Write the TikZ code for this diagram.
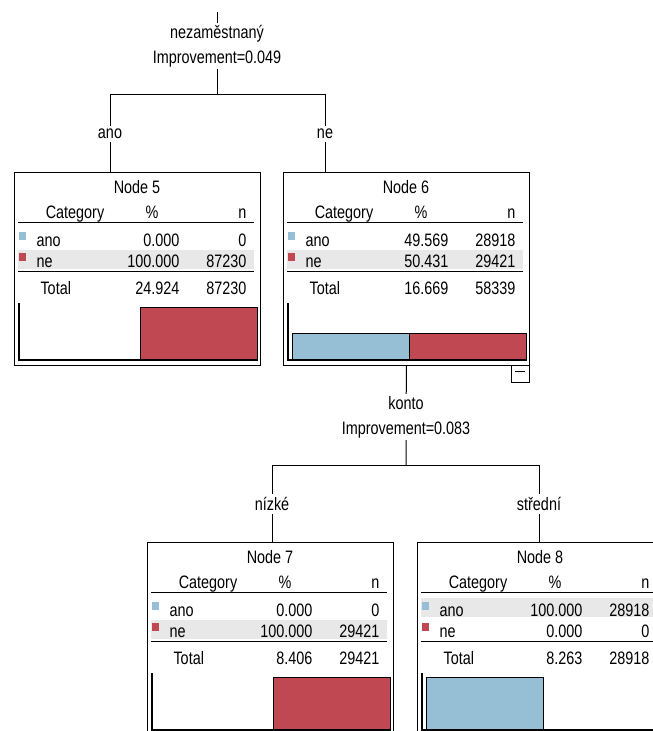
\documentclass[tikz,border=0pt]{standalone}
\usepackage{fontspec}
\setmainfont{Liberation Sans}[FakeStretch=0.8]
\usetikzlibrary{positioning}

\definecolor{anoblue}{RGB}{150,190,212}
\definecolor{nered}{RGB}{192,72,82}
\definecolor{rowgray}{RGB}{232,232,232}

\tikzset{
  treebox/.style={draw, line width=1pt, minimum width=246pt, minimum height=193pt, inner sep=0pt, anchor=north west},
  splitlabel/.style={align=center, inner sep=2pt, font=\fontsize{18}{25}\selectfont},
  branchlabel/.style={inner sep=3pt},
  edge/.style={line width=1pt},
  barbox/.style={draw=black, line width=0.8pt},
}

\begin{document}
\begin{tikzpicture}[x=1pt, y=-1pt, font=\fontsize{18}{21}\selectfont]
    \useasboundingbox (0,0) rectangle (653,731);
    \clip (0,0) rectangle (653,731);

    % Node boxes: name/left/top/number/ano %/ano n/ne %/ne n/total %/total n/highlighted row
    \foreach \nm/\bx/\by/\num/\ap/\an/\np/\nn/\tp/\tn/\hy in {
        n5/14/172/5/0.000/0/100.000/87230/24.924/87230/78,
        n6/283/172/6/49.569/28918/50.431/29421/16.669/58339/78,
        n7/147/542/7/0.000/0/100.000/29421/8.406/29421/78,
        n8/417/542/8/100.000/28918/0.000/0/8.263/28918/56}{
        \begin{scope}[shift={(\bx,\by)}]
            \fill[rowgray] (4,\hy) rectangle (240,\hy+19);
            \node[treebox] (\nm) at (0,0) {};
            \node[anchor=base] (\nm title) at (123,21) {Node \num};
            % Header
            \node[anchor=base] (\nm cat) at (61,46) {Category};
            \node[anchor=base] (\nm pct) at (138,46) {\%};
            \node[anchor=base east] (\nm cnt) at (236,46) {n};
            \draw (4,50) -- (240,50);
            % Rows
            \fill[anoblue] (5,60) rectangle (12,68);
            \node[anchor=base west] (\nm ano) at (19,74) {ano};
            \node[anchor=base east] (\nm anop) at (169,74) {\ap};
            \node[anchor=base east] (\nm anon) at (236,74) {\an};
            \fill[nered] (5,81) rectangle (12,89);
            \node[anchor=base west] (\nm ne) at (19,95) {ne};
            \node[anchor=base east] (\nm nep) at (169,95) {\np};
            \node[anchor=base east] (\nm nen) at (236,95) {\nn};
            \draw (4,99) -- (240,99);
            \node[anchor=base west] (\nm tot) at (23,122) {Total};
            \node[anchor=base east] (\nm totp) at (169,122) {\tp};
            \node[anchor=base east] (\nm totn) at (236,122) {\tn};
            % Bar chart
            \filldraw[barbox, fill=anoblue] (9,188) rectangle (126,{188-0.53*\ap});
            \filldraw[barbox, fill=nered] (126,188) rectangle (243,{188-0.53*\np});
            \draw[line width=1.2pt] (5,131) -- (5,188) -- (243,188);
        \end{scope}
    }

    % First split
    \coordinate (root) at (217,12);
    \node[splitlabel] (split1) at (217,46) {nezaměstnaný\\Improvement=0.049};
    \coordinate (j1) at (217,94);
    \node[branchlabel] (lab5) at (110,134) {ano};
    \node[branchlabel] (lab6) at (325,134) {ne};
    \draw[edge] (root) -- (split1) -- (j1);
    \draw[edge] (j1) -| (lab5);
    \draw[edge] (j1) -| (lab6);
    \draw[edge] (lab5) -- (lab5 |- n5.north);
    \draw[edge] (lab6) -- (lab6 |- n6.north);

    % Collapse marker
    \node[draw, line width=0.8pt, minimum width=18pt, minimum height=17pt, inner sep=0pt] (n6toggle) at (520,373.5) {};
    \draw[line width=1pt] ([xshift=4pt, yshift=2pt]n6toggle.west) -- ([xshift=-4pt, yshift=2pt]n6toggle.east);

    % Second split
    \node[splitlabel] (split2) at (406,417) {konto\\Improvement=0.083};
    \coordinate (j2) at (406,465);
    \node[branchlabel] (lab7) at (272,504) {nízké};
    \node[branchlabel] (lab8) at (539,504) {střední};
    \draw[edge] (n6.south) -- (split2) -- (j2);
    \draw[edge] (j2) -| (lab7);
    \draw[edge] (j2) -| (lab8);
    \draw[edge] (lab7) -- (lab7 |- n7.north);
    \draw[edge] (lab8) -- (lab8 |- n8.north);

\end{tikzpicture}
\end{document}
